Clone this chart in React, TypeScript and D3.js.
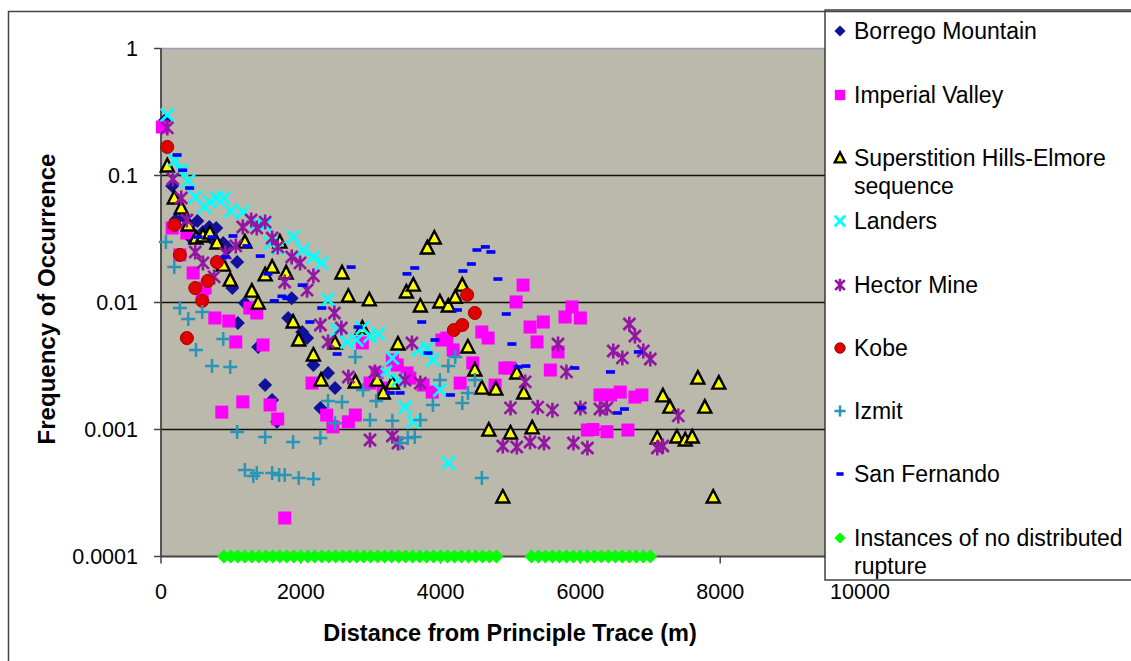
import React from 'react';
import * as d3 from 'd3';

type Pt = [number, number];

const xTicks = [0, 2000, 4000, 6000, 8000, 10000];
const yTicks = [1, 0.1, 0.01, 0.001, 0.0001];
const yTickLabels = ['1', '0.1', '0.01', '0.001', '0.0001'];
const xTitle = 'Distance from Principle Trace (m)';
const yTitle = 'Frequency of Occurrence';

const borrego: Pt[] = [
  [60, 0.274], [160, 0.0827], [210, 0.0446], [330, 0.0471], [410, 0.0408], [410, 0.0328], [520, 0.0438],
  [600, 0.0359], [690, 0.0393], [790, 0.0386], [740, 0.0311], [890, 0.0294], [960, 0.0269], [1090, 0.0208],
  [1020, 0.013], [1200, 0.0099], [1100, 0.0069], [1390, 0.00446], [1490, 0.00224], [1590, 0.00171],
  [1660, 0.00115], [1820, 0.00755], [1870, 0.0108], [2020, 0.00586], [2090, 0.00525], [2180, 0.00322],
  [2280, 0.00148], [2390, 0.00279], [2490, 0.00212],
];

const imperial: Pt[] = [
  [20, 0.241], [160, 0.0386], [370, 0.0353], [270, 0.0237], [460, 0.0171], [630, 0.013], [590, 0.0118],
  [770, 0.00755], [970, 0.00715], [1070, 0.00489], [1270, 0.00905], [1370, 0.00827], [1460, 0.00463],
  [870, 0.00137], [1170, 0.00165], [1560, 0.00156], [1670, 0.00121], [1770, 0.000201], [2160, 0.00232],
  [2370, 0.0013], [2460, 0.00105], [2680, 0.00115], [2780, 0.0013], [2880, 0.0048], [2990, 0.00232],
  [3090, 0.00279], [3180, 0.00212], [3310, 0.00353], [3380, 0.00322], [3520, 0.00279], [3560, 0.00254],
  [3750, 0.00224], [3880, 0.00197], [4020, 0.00507], [4090, 0.00525], [4180, 0.00423], [4280, 0.00232],
  [4460, 0.00334], [4590, 0.00586], [4680, 0.00525], [4780, 0.00224], [4920, 0.00305], [4990, 0.00305],
  [5080, 0.0101], [5180, 0.0137], [5280, 0.00641], [5380, 0.00489], [5470, 0.00702], [5570, 0.00294],
  [5680, 0.00408], [5780, 0.00769], [5880, 0.00922], [6000, 0.00755], [6100, 0.00099], [6180, 0.001],
  [6280, 0.00187], [6380, 0.00096], [6430, 0.00187], [6570, 0.00197], [6680, 0.00099], [6780, 0.0018],
  [6880, 0.00187],
];

const superstition: Pt[] = [
  [90, 0.119], [190, 0.0665], [290, 0.0555], [390, 0.0408], [500, 0.0322], [600, 0.0334], [700, 0.0353],
  [800, 0.0294], [890, 0.0197], [990, 0.015], [1200, 0.0299], [1300, 0.0123], [1390, 0.0099], [1490, 0.0165],
  [1590, 0.019], [1700, 0.0299], [1790, 0.0171], [1890, 0.00702], [1970, 0.00507], [2180, 0.00386],
  [2290, 0.00245], [2490, 0.0048], [2590, 0.0171], [2680, 0.0112], [2780, 0.00237], [2880, 0.0063],
  [2980, 0.0105], [3090, 0.00245], [3180, 0.00194], [3310, 0.00232], [3390, 0.00471], [3510, 0.0121],
  [3610, 0.0137], [3710, 0.00938], [3810, 0.0269], [3910, 0.0322], [3990, 0.0101], [4110, 0.00938],
  [4210, 0.011], [4310, 0.0137], [4390, 0.00446], [4490, 0.00294], [4590, 0.00212], [4690, 0.00099],
  [4790, 0.00208], [4890, 0.000294], [5000, 0.000938], [5090, 0.00279], [5190, 0.00194], [5310, 0.00103],
  [7100, 0.000857], [7180, 0.00184], [7280, 0.0015], [7380, 0.000873], [7500, 0.000827], [7600, 0.000873],
  [7680, 0.00254], [7780, 0.0015], [7900, 0.000294], [7980, 0.00232],
];

const landers: Pt[] = [
  [90, 0.299], [200, 0.132], [290, 0.11], [390, 0.0905], [490, 0.0677], [620, 0.0565], [700, 0.0618],
  [800, 0.0665], [900, 0.0665], [1000, 0.0525], [1170, 0.0516], [1370, 0.0423], [1490, 0.0408],
  [1570, 0.0294], [1670, 0.0269], [1890, 0.0328], [2030, 0.0259], [2180, 0.0228], [2300, 0.0205],
  [2390, 0.0105], [2520, 0.00607], [2660, 0.00489], [2800, 0.00507], [2880, 0.0063], [2990, 0.00545],
  [3110, 0.00565], [3210, 0.00284], [3310, 0.00366], [3390, 0.00245], [3490, 0.0015], [3610, 0.00115],
  [3680, 0.00423], [3810, 0.00438], [3890, 0.00353], [3990, 0.00205], [4110, 0.000545],
];

const hector: Pt[] = [
  [90, 0.237], [170, 0.0938], [290, 0.0665], [370, 0.0446], [490, 0.025], [600, 0.0205], [760, 0.0159],
  [920, 0.0245], [1070, 0.0279], [1170, 0.0393], [1290, 0.0446], [1370, 0.0386], [1490, 0.043],
  [1590, 0.0322], [1670, 0.0274], [1770, 0.0145], [1870, 0.0228], [1990, 0.0205], [2090, 0.0125],
  [2180, 0.0162], [2280, 0.00665], [2390, 0.00489], [2480, 0.00827], [2580, 0.0063], [2680, 0.00259],
  [2990, 0.000827], [3060, 0.00284], [3310, 0.000889], [3390, 0.000783], [3490, 0.00245], [3590, 0.0048],
  [3710, 0.00232], [4890, 0.000741], [5000, 0.00148], [5090, 0.000728], [5210, 0.00237], [5280, 0.000797],
  [5390, 0.0015], [5480, 0.000783], [5600, 0.00142], [5680, 0.00471], [5800, 0.00284], [5900, 0.000783],
  [6000, 0.00148], [6100, 0.000715], [6280, 0.00145], [6380, 0.00148], [6470, 0.00415], [6600, 0.00366],
  [6700, 0.00677], [6780, 0.00545], [6900, 0.00415], [7000, 0.00359], [7100, 0.000715], [7180, 0.000741],
  [7400, 0.00128],
];

const kobe: Pt[] = [
  [90, 0.168], [190, 0.0408], [270, 0.0237], [490, 0.013], [590, 0.0103], [670, 0.0148], [800, 0.0208],
  [370, 0.00525], [4190, 0.00607], [4310, 0.00665], [4380, 0.0115], [4490, 0.00827],
];

const izmit: Pt[] = [
  [70, 0.0299], [190, 0.019], [270, 0.00905], [390, 0.00741], [590, 0.00842], [500, 0.00423], [730, 0.00316],
  [890, 0.00516], [990, 0.00311], [1090, 0.000956], [1200, 0.00048], [1320, 0.00043], [1370, 0.000454],
  [1490, 0.000873], [1590, 0.000454], [1690, 0.000438], [1770, 0.000438], [1890, 0.000797], [1970, 0.000415],
  [2180, 0.000408], [2280, 0.000857], [2390, 0.00168], [2490, 0.00112], [2590, 0.00165], [2780, 0.00372],
  [2890, 0.00205], [2990, 0.00119], [3080, 0.00168], [3310, 0.00117], [3420, 0.000783], [3530, 0.000857],
  [3630, 0.000873], [3710, 0.00119], [3890, 0.00156], [3990, 0.00245], [4110, 0.00316], [4210, 0.00372],
  [4310, 0.00162], [4390, 0.00194], [4490, 0.00245], [4590, 0.000415],
];

const sanFernando: Pt[] = [
  [230, 0.145], [310, 0.11], [410, 0.0797], [530, 0.0328], [730, 0.0328], [920, 0.0228], [1030, 0.0334],
  [1230, 0.0279], [1420, 0.0232], [1530, 0.0168], [1620, 0.0103], [1730, 0.0112], [1800, 0.0108],
  [2020, 0.0137], [2130, 0.00702], [2300, 0.00905], [2520, 0.00393], [2720, 0.019], [2820, 0.00641],
  [3280, 0.00194], [3420, 0.00194], [3520, 0.0168], [3630, 0.0187], [3730, 0.00702], [3820, 0.004],
  [3920, 0.00507], [4140, 0.00187], [4240, 0.00873], [4320, 0.0177], [4440, 0.0201], [4520, 0.0259],
  [4640, 0.0274], [4720, 0.025], [4820, 0.0153], [4940, 0.00812], [5020, 0.00471], [5110, 0.00311],
  [5220, 0.00316], [5920, 0.00305], [6020, 0.00148], [6430, 0.00284], [6530, 0.00135], [6630, 0.00145],
  [6830, 0.00408],
];

const noRuptureValue = 0.0001;
const noRuptureX = [
  900, 1000, 1100, 1200, 1300, 1400, 1500, 1600, 1700, 1800, 1900, 2000, 2100, 2200, 2300, 2400, 2500,
  2600, 2700, 2800, 2900, 3000, 3100, 3200, 3300, 3400, 3500, 3600, 3700, 3800, 3900, 4000, 4100, 4200,
  4300, 4400, 4500, 4600, 4700, 4800,
  5300, 5400, 5500, 5600, 5700, 5800, 5900, 6000, 6100, 6200, 6300, 6400, 6500, 6600, 6700, 6800, 6900, 7000,
];

const seriesNames = [
  'Borrego Mountain', 'Imperial Valley', 'Superstition Hills-Elmore|sequence', 'Landers', 'Hector Mine',
  'Kobe', 'Izmit', 'San Fernando', 'Instances of no distributed|rupture',
];
const seriesKinds = ['diamond', 'square', 'triangle', 'x', 'star', 'circle', 'plus', 'dash', 'green'];

const FONT = 'Liberation Sans, Arial, Helvetica, sans-serif';

function Marker({ kind, cx, cy, s = 1 }: { kind: string; cx: number; cy: number; s?: number }) {
  switch (kind) {
    case 'diamond': {
      const h = 7 * s;
      return <path d={`M${cx},${cy - h}L${cx + h},${cy}L${cx},${cy + h}L${cx - h},${cy}Z`} fill="#11119c" />;
    }
    case 'square': {
      const h = 6.5 * s;
      return <rect x={cx - h} y={cy - h} width={2 * h} height={2 * h} fill="#ff00ff" />;
    }
    case 'triangle': {
      const h = 6.5 * s;
      return (
        <path d={`M${cx},${cy - h - 0.5}L${cx + h},${cy + h * 0.85}L${cx - h},${cy + h * 0.85}Z`} fill="#ffff00" stroke="#000" strokeWidth={2.4} strokeLinejoin="miter" />
      );
    }
    case 'x': {
      const h = 6.5 * s;
      return (
        <path d={`M${cx - h},${cy - h}L${cx + h},${cy + h}M${cx - h},${cy + h}L${cx + h},${cy - h}`} stroke="#00ffff" strokeWidth={2.8} fill="none" />
      );
    }
    case 'star': {
      const h = 6 * s;
      return (
        <path d={`M${cx - h},${cy - h}L${cx + h},${cy + h}M${cx - h},${cy + h}L${cx + h},${cy - h}M${cx},${cy - h - 1.5}L${cx},${cy + h + 1.5}`} stroke="#9316a3" strokeWidth={2.6} fill="none" />
      );
    }
    case 'circle':
      return <circle cx={cx} cy={cy} r={6.5 * s} fill="#e00000" stroke="#a00000" strokeWidth={1} />;
    case 'plus': {
      const h = 7 * s;
      return (
        <path d={`M${cx - h},${cy}L${cx + h},${cy}M${cx},${cy - h}L${cx},${cy + h}`} stroke="#2b95b8" strokeWidth={2.5} fill="none" />
      );
    }
    case 'dash':
      return <rect x={cx - 4.5 * s} y={cy - 1.8} width={9 * s} height={3.6} fill="#0000ff" />;
    case 'green': {
      const h = 7 * s;
      return <path d={`M${cx},${cy - h}L${cx + h},${cy}L${cx},${cy + h}L${cx - h},${cy}Z`} fill="#00ff00" />;
    }
    default:
      return null;
  }
}

export default function App() {
  const W = 1131;
  const H = 661;
  const x = d3.scaleLinear().domain([0, 10000]).range([161, 860]);
  const y = d3.scaleLog().domain([0.0001, 1]).range([556.5, 48.5]);
  const [x0, x1] = x.range();
  const [yb, yt] = y.range();

  const noRupture: Pt[] = noRuptureX.map((v) => [v, noRuptureValue]);
  const allSeries: Pt[][] = [borrego, imperial, superstition, landers, hector, kobe, izmit, sanFernando, noRupture];

  const legendX = 825;
  const legendRows = [31, 95, 158, 221, 285, 348, 411, 474, 538];

  return (
    <svg width={W} height={H} style={{ position: 'absolute', left: 0, top: 0, background: '#fff' }} fontFamily={FONT}>
      <rect x={0} y={0} width={W} height={H} fill="#fff" />
      {/* plot area */}
      <rect x={x0} y={yt} width={x1 - x0} height={yb - yt} fill="#bbb9ab" />
      <line x1={x0} x2={x1} y1={yt} y2={yt} stroke="#9a9ab8" strokeWidth={1.5} />
      {yTicks.slice(1, 4).map((t) => (
        <line key={t} x1={x0} x2={x1} y1={y(t)} y2={y(t)} stroke="#111" strokeWidth={1.3} />
      ))}
      {/* axes */}
      <line x1={x0} x2={x0} y1={yt} y2={yb} stroke="#444" strokeWidth={1.8} />
      <line x1={x0} x2={x1} y1={yb} y2={yb} stroke="#444" strokeWidth={1.8} />
      {yTicks.map((t, i) => (
        <g key={t}>
          <line x1={x0 - 7} x2={x0} y1={y(t)} y2={y(t)} stroke="#444" strokeWidth={1.5} />
          <text x={138} y={y(t) + 7.5} textAnchor="end" fontSize={21.5} fill="#000">
            {yTickLabels[i]}
          </text>
        </g>
      ))}
      {xTicks.map((t) => (
        <g key={t}>
          <line x1={x(t)} x2={x(t)} y1={yb} y2={yb + 7} stroke="#444" strokeWidth={1.5} />
          <text x={x(t)} y={599} textAnchor="middle" fontSize={21.5} fill="#000">
            {t}
          </text>
        </g>
      ))}
      <text x={510} y={641} textAnchor="middle" fontSize={23.5} fontWeight="bold" fill="#000">
        {xTitle}
      </text>
      <text transform="translate(55,299) rotate(-90)" textAnchor="middle" fontSize={24} fontWeight="bold" fill="#000">
        {yTitle}
      </text>
      {/* series */}
      {allSeries.map((s, si) => (
        <g key={si}>
          {s.map((p, pi) => (
            <Marker key={pi} kind={seriesKinds[si]} cx={x(p[0])} cy={y(p[1])} />
          ))}
        </g>
      ))}
      {/* legend */}
      <rect x={legendX} y={10} width={330} height={570} fill="#fff" stroke="#222" strokeWidth={1.3} />
      {seriesNames.map((name, i) => {
        const lines = name.split('|');
        const ry = legendRows[i];
        return (
          <g key={name}>
            <Marker kind={seriesKinds[i]} cx={840} cy={ry} s={0.8} />
            {lines.map((ln, li) => (
              <text key={li} x={854} y={ry + 8 + li * 28} fontSize={23} fill="#000">
                {ln}
              </text>
            ))}
          </g>
        );
      })}
      {/* outer frame */}
      <rect x={8.5} y={11.5} width={1200} height={700} fill="none" stroke="#444" strokeWidth={1.5} />
    </svg>
  );
}
